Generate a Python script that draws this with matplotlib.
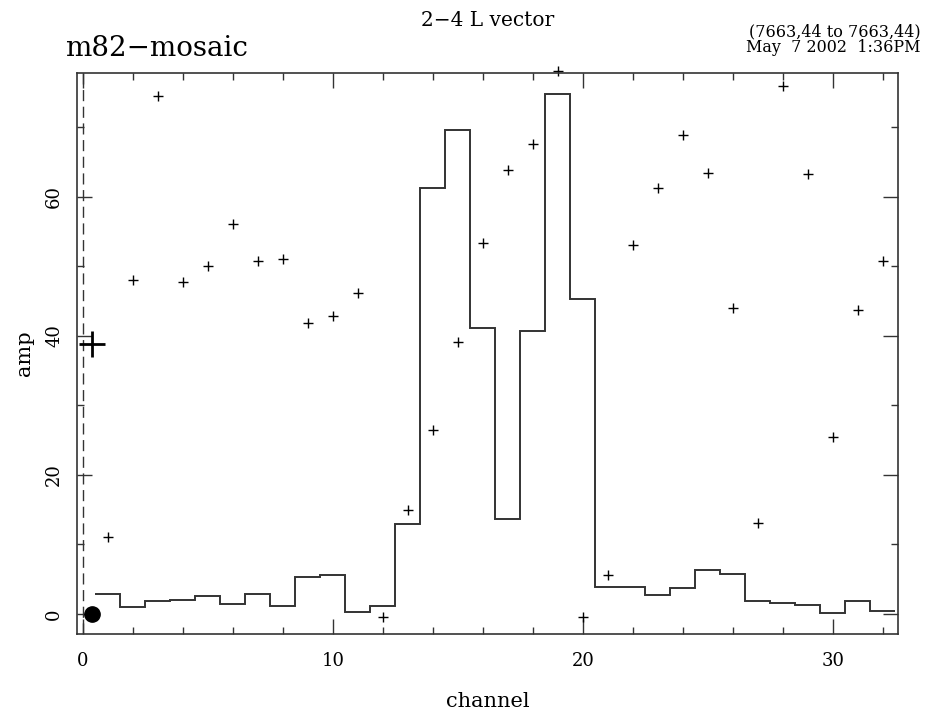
import numpy as np
import matplotlib
matplotlib.use("Agg")
import matplotlib.pyplot as plt
from matplotlib.ticker import MultipleLocator

plt.rcParams['font.family'] = ['DejaVu Serif']

# amplitude per channel (histogram)
channels = np.arange(1, 33)
amp_hist = [2.9, 1.0, 1.8, 2.0, 2.6, 1.4, 2.9, 1.1, 5.3, 5.6,
            0.25, 1.2, 12.9, 61.2, 69.5, 41.1, 13.6, 40.7, 74.8, 45.3,
            3.9, 3.85, 2.7, 3.7, 6.3, 5.75, 1.8, 1.6, 1.35, 0.1,
            1.8, 0.5]
# scattered points (+)
amp_pts = [11.1, 48.0, 74.5, 47.7, 50.0, 56.1, 50.8, 51.0, 41.8, 42.8,
           46.1, -0.5, 15.0, 26.5, 39.1, 53.3, 63.8, 67.5, 78.1, -0.4,
           5.6, 53.1, 61.2, 68.8, 63.4, 44.0, 13.1, 75.9, 63.3, 25.5,
           43.7, 50.7]
# summary markers at the left
avg_x = 0.37
avg_cross = 38.8
avg_dot = 0.0

edges = np.append(channels - 0.5, channels[-1] + 0.5)

fig = plt.figure(figsize=(9.25, 7.17), dpi=100)
ax = fig.add_axes([0.0832, 0.1157, 0.8873, 0.7829])

ink = '#333333'
ax.stairs(amp_hist, edges, baseline=None, color=ink, linewidth=1.4)
ax.plot(channels, amp_pts, '+', color='black', markersize=7, markeredgewidth=1.0, clip_on=False)
ax.axvline(0, color=ink, linewidth=1.0, linestyle=(0, (8, 4)))
ax.plot([avg_x], [avg_cross], '+', color='black', markersize=19, markeredgewidth=2.0)
ax.plot([avg_x], [avg_dot], 'o', color='black', markersize=11)

ax.set_xlim(-0.24, 32.6)
ax.set_ylim(-2.88, 77.8)

ax.xaxis.set_major_locator(MultipleLocator(10))
ax.xaxis.set_minor_locator(MultipleLocator(2))
ax.yaxis.set_major_locator(MultipleLocator(20))
ax.yaxis.set_minor_locator(MultipleLocator(10))
ax.tick_params(which='both', direction='in', top=True, right=True, color=ink, width=1.0)
ax.tick_params(which='major', length=11)
ax.tick_params(which='minor', length=5)
ax.tick_params(axis='x', labelsize=13, pad=13)
ax.tick_params(axis='y', labelsize=13, pad=10, labelrotation=90)
for lab in ax.get_yticklabels():
    lab.set_verticalalignment('center')
for sp in ax.spines.values():
    sp.set_color(ink)
    sp.set_linewidth(1.2)

ax.set_xlabel('channel', fontsize=15, labelpad=16)
ax.set_ylabel('amp', fontsize=15)
ax.yaxis.set_label_coords(-0.052, 0.5)

fig.text(0.527, 0.972, '2\u22124 L vector', ha='center', va='center', fontsize=14.5)
fig.text(0.07, 0.933, 'm82\u2212mosaic', ha='left', va='center', fontsize=20)
fig.text(0.995, 0.956, '(7663,44 to 7663,44)', ha='right', va='center', fontsize=11.5)
fig.text(0.995, 0.934, 'May  7 2002  1:36PM', ha='right', va='center', fontsize=11.5)

fig.savefig('out.png', dpi=100)
